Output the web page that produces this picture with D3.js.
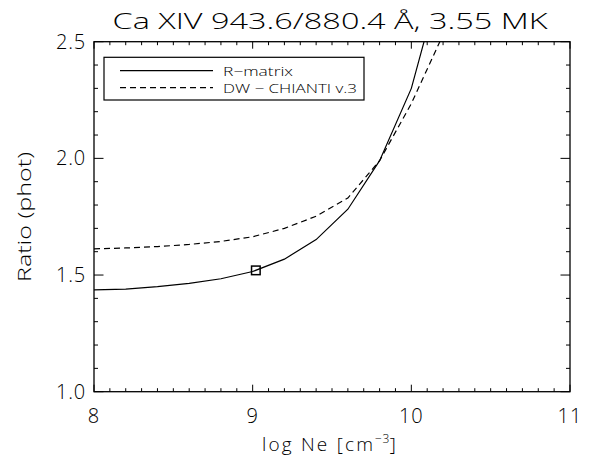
<!DOCTYPE html>
<html><head><meta charset="utf-8">
<script src="https://cdn.jsdelivr.net/npm/d3@7"></script>
<style>
html,body{margin:0;padding:0;background:#fff;}
text{font-family:"Open Sans","DejaVu Sans",sans-serif;font-weight:300;fill:#000;}
</style></head>
<body>
<svg id="c" width="595" height="461"></svg>
<script>
// ---- data ----
const logNe   = [8.0, 8.2, 8.4, 8.6, 8.8, 9.0, 9.2, 9.4, 9.6, 9.8, 10.0, 10.2];
const rmatrix = [1.436, 1.440, 1.450, 1.464, 1.484, 1.515, 1.568, 1.652, 1.782, 1.990, 2.300, 2.800];
const dwChianti = [1.612, 1.616, 1.622, 1.631, 1.644, 1.664, 1.700, 1.752, 1.830, 1.990, 2.235, 2.530];
const observed = [{x: 9.02, y: 1.52}];
const xTicks = [8, 9, 10, 11];
const yTicks = [1.0, 1.5, 2.0, 2.5];
const seriesNames = ["R\u2212matrix", "DW \u2212 CHIANTI v.3"];
const titleText = "Ca XIV 943.6/880.4 \u00C5, 3.55 MK";

// ---- layout ----
const svg = d3.select("#c");
const L = 94, R = 570, T = 41.7, B = 391.7;
const x = d3.scaleLinear().domain([8, 11]).range([L, R]);
const y = d3.scaleLinear().domain([1.0, 2.5]).range([B, T]);

svg.append("defs").append("clipPath").attr("id","clip")
  .append("rect").attr("x",L).attr("y",T).attr("width",R-L).attr("height",B-T);

// frame
svg.append("rect").attr("x",L).attr("y",T).attr("width",R-L).attr("height",B-T)
  .attr("fill","none").attr("stroke","#000").attr("stroke-width",1.3);

// ticks
const xMinor = d3.range(8, 11.0001, 0.1).map(v => +v.toFixed(2));
const yMinor = d3.range(1.0, 2.5001, 0.1).map(v => +v.toFixed(2));
const tickG = svg.append("g").attr("stroke","#000").attr("stroke-width",1);
function isMajor(v, arr){ return arr.some(a => Math.abs(a - v) < 1e-6); }
xMinor.forEach(v => {
  const len = isMajor(v, xTicks) ? 7 : 3.5;
  tickG.append("line").attr("x1",x(v)).attr("x2",x(v)).attr("y1",B).attr("y2",B-len);
  tickG.append("line").attr("x1",x(v)).attr("x2",x(v)).attr("y1",T).attr("y2",T+len);
});
yMinor.forEach(v => {
  const len = isMajor(v, yTicks) ? 9.5 : 4;
  tickG.append("line").attr("x1",L).attr("x2",L+len).attr("y1",y(v)).attr("y2",y(v));
  tickG.append("line").attr("x1",R).attr("x2",R-len).attr("y1",y(v)).attr("y2",y(v));
});

// tick labels
svg.append("g").selectAll("text").data(xTicks).join("text")
  .attr("x", d => x(d)).attr("y", 423).attr("text-anchor","middle")
  .attr("font-size",20).attr("letter-spacing",1).text(d => d3.format("d")(d));
svg.append("g").selectAll("text").data(yTicks).join("text")
  .attr("x", 86).attr("y", d => y(d) + 7).attr("text-anchor","end")
  .attr("font-size",20).attr("letter-spacing",0.8).text(d => d3.format(".1f")(d));

// titles
svg.append("text").attr("x",330).attr("y",29).attr("text-anchor","middle")
  .attr("font-size",22).attr("textLength",435).attr("lengthAdjust","spacingAndGlyphs")
  .text(titleText);
const xt = svg.append("text").attr("x",330).attr("y",451).attr("text-anchor","middle")
  .attr("font-size",19).attr("letter-spacing",2.2);
xt.append("tspan").text("log Ne [cm");
xt.append("tspan").attr("dy",-8).attr("font-size",12).attr("letter-spacing",0.5).text("\u22123");
xt.append("tspan").attr("dy",8).text("]");
svg.append("text").attr("transform","translate(31,217) rotate(-90)").attr("text-anchor","middle")
  .attr("font-size",18).attr("textLength",130).attr("lengthAdjust","spacingAndGlyphs").text("Ratio (phot)");

// lines
const line = (vals) => d3.line().x((d,i) => x(logNe[i])).y(d => y(d))(vals);
const plotG = svg.append("g").attr("clip-path","url(#clip)");
plotG.append("path").attr("d", line(rmatrix)).attr("fill","none").attr("stroke","#000").attr("stroke-width",1.2);
plotG.append("path").attr("d", line(dwChianti)).attr("fill","none").attr("stroke","#000").attr("stroke-width",1.2)
  .attr("stroke-dasharray","6,4");

// observed square
plotG.selectAll("rect.obs").data(observed).join("rect").attr("class","obs")
  .attr("x", d => x(d.x) - 4.3).attr("y", d => y(d.y) - 4.3).attr("width",8.6).attr("height",8.6)
  .attr("fill","none").attr("stroke","#000").attr("stroke-width",1.5);

// legend
const lg = svg.append("g");
lg.append("rect").attr("x",104).attr("y",57.3).attr("width",260).attr("height",42.7)
  .attr("fill","#fff").attr("stroke","#000").attr("stroke-width",1.2);
const legY = [70.7, 87.7];
lg.append("line").attr("x1",120).attr("x2",213).attr("y1",legY[0]).attr("y2",legY[0]).attr("stroke","#000").attr("stroke-width",1.2);
lg.append("line").attr("x1",120).attr("x2",213).attr("y1",legY[1]).attr("y2",legY[1]).attr("stroke","#000").attr("stroke-width",1.2).attr("stroke-dasharray","6,4");
lg.append("text").attr("x",223).attr("y",legY[0]+5).attr("font-size",13).attr("textLength",70).attr("lengthAdjust","spacingAndGlyphs").text(seriesNames[0]);
lg.append("text").attr("x",223).attr("y",legY[1]+5).attr("font-size",13).attr("textLength",134).attr("lengthAdjust","spacingAndGlyphs").text(seriesNames[1]);
</script>
</body></html>
